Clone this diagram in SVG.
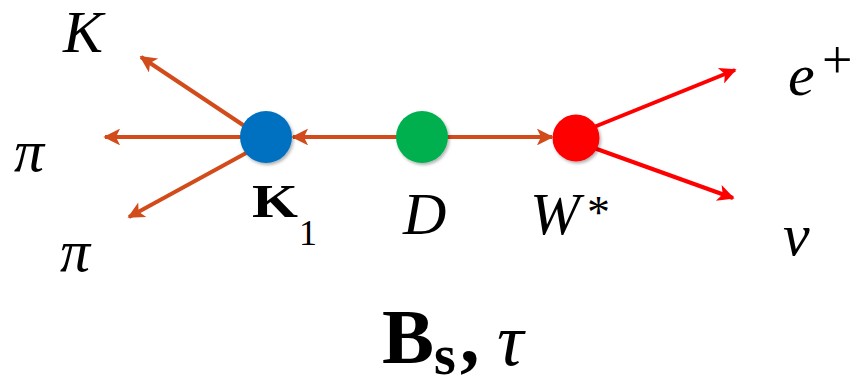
<svg xmlns="http://www.w3.org/2000/svg" width="859" height="388" viewBox="0 0 859 388">
  <defs>
    <marker id="headOrange" viewBox="0 0 10 10" refX="9" refY="5" markerWidth="5" markerHeight="4.2" markerUnits="strokeWidth" orient="auto">
      <path d="M0,0 L10,5 L0,10 L2.5,5 Z" fill="#D24B1A"/>
    </marker>
    <marker id="headRed" viewBox="0 0 10 10" refX="9" refY="5" markerWidth="5" markerHeight="4.2" markerUnits="strokeWidth" orient="auto">
      <path d="M0,0 L10,5 L0,10 L2.5,5 Z" fill="#FF0000"/>
    </marker>
    <filter id="shadow" x="-30%" y="-30%" width="160%" height="160%">
      <feDropShadow dx="1.5" dy="2" stdDeviation="1.5" flood-color="#000" flood-opacity="0.3"/>
    </filter>
  </defs>
  <style>
    .lbl { font-family: "Liberation Serif", "DejaVu Serif", serif; fill: #000; }
    .it { font-style: italic; font-size: 60px; }
    .ora { stroke: #D24B1A; stroke-width: 4; fill: none; marker-end: url(#headOrange); }
    .red { stroke: #FF0000; stroke-width: 4; fill: none; marker-end: url(#headRed); }
  </style>

  <g id="connectors">
    <line class="ora" x1="400" y1="137" x2="293" y2="137"/>
    <line class="ora" x1="446" y1="137" x2="552" y2="137"/>
    <line class="ora" x1="246" y1="127" x2="141" y2="57"/>
    <line class="ora" x1="242" y1="137" x2="105" y2="137"/>
    <line class="ora" x1="248" y1="152" x2="129" y2="217"/>
    <line class="red" x1="594" y1="127" x2="735" y2="70"/>
    <line class="red" x1="594" y1="148" x2="733" y2="198"/>
  </g>

  <g id="node-K1">
    <circle cx="266" cy="137" r="26" fill="#0070C0" filter="url(#shadow)"/>
    <text class="lbl" x="252" y="217" font-size="46" font-weight="bold" textLength="46" lengthAdjust="spacingAndGlyphs">K</text>
    <text class="lbl" x="299" y="245" font-size="36">1</text>
  </g>
  <g id="node-D">
    <circle cx="422" cy="137" r="26" fill="#00B050" filter="url(#shadow)"/>
    <text class="lbl it" x="403" y="234">D</text>
  </g>
  <g id="node-W">
    <circle cx="576" cy="138" r="23.5" fill="#FF0000" filter="url(#shadow)"/>
    <text class="lbl it" x="530" y="234">W</text>
    <text class="lbl" x="587" y="228" font-size="46">*</text>
  </g>

  <g id="node-K">
    <text class="lbl it" x="63" y="52">K</text>
  </g>
  <g id="node-pi-left">
    <text class="lbl it" x="14" y="171">π</text>
  </g>
  <g id="node-pi-low">
    <text class="lbl it" x="60" y="271">π</text>
  </g>
  <g id="node-e">
    <text class="lbl it" x="788" y="95">e</text>
    <text class="lbl" x="822" y="78" font-size="54">+</text>
  </g>
  <g id="node-nu">
    <text class="lbl it" x="783" y="255">ν</text>
  </g>

  <g id="title">
    <text class="lbl" x="382" y="363" font-size="78" font-weight="bold">B</text>
    <text class="lbl" x="434" y="374" font-size="56" font-weight="bold">s</text>
    <text class="lbl" x="460" y="363" font-size="78" font-weight="bold">,</text>
    <text class="lbl" x="497" y="365" font-size="74" font-style="italic">τ</text>
  </g>
</svg>
